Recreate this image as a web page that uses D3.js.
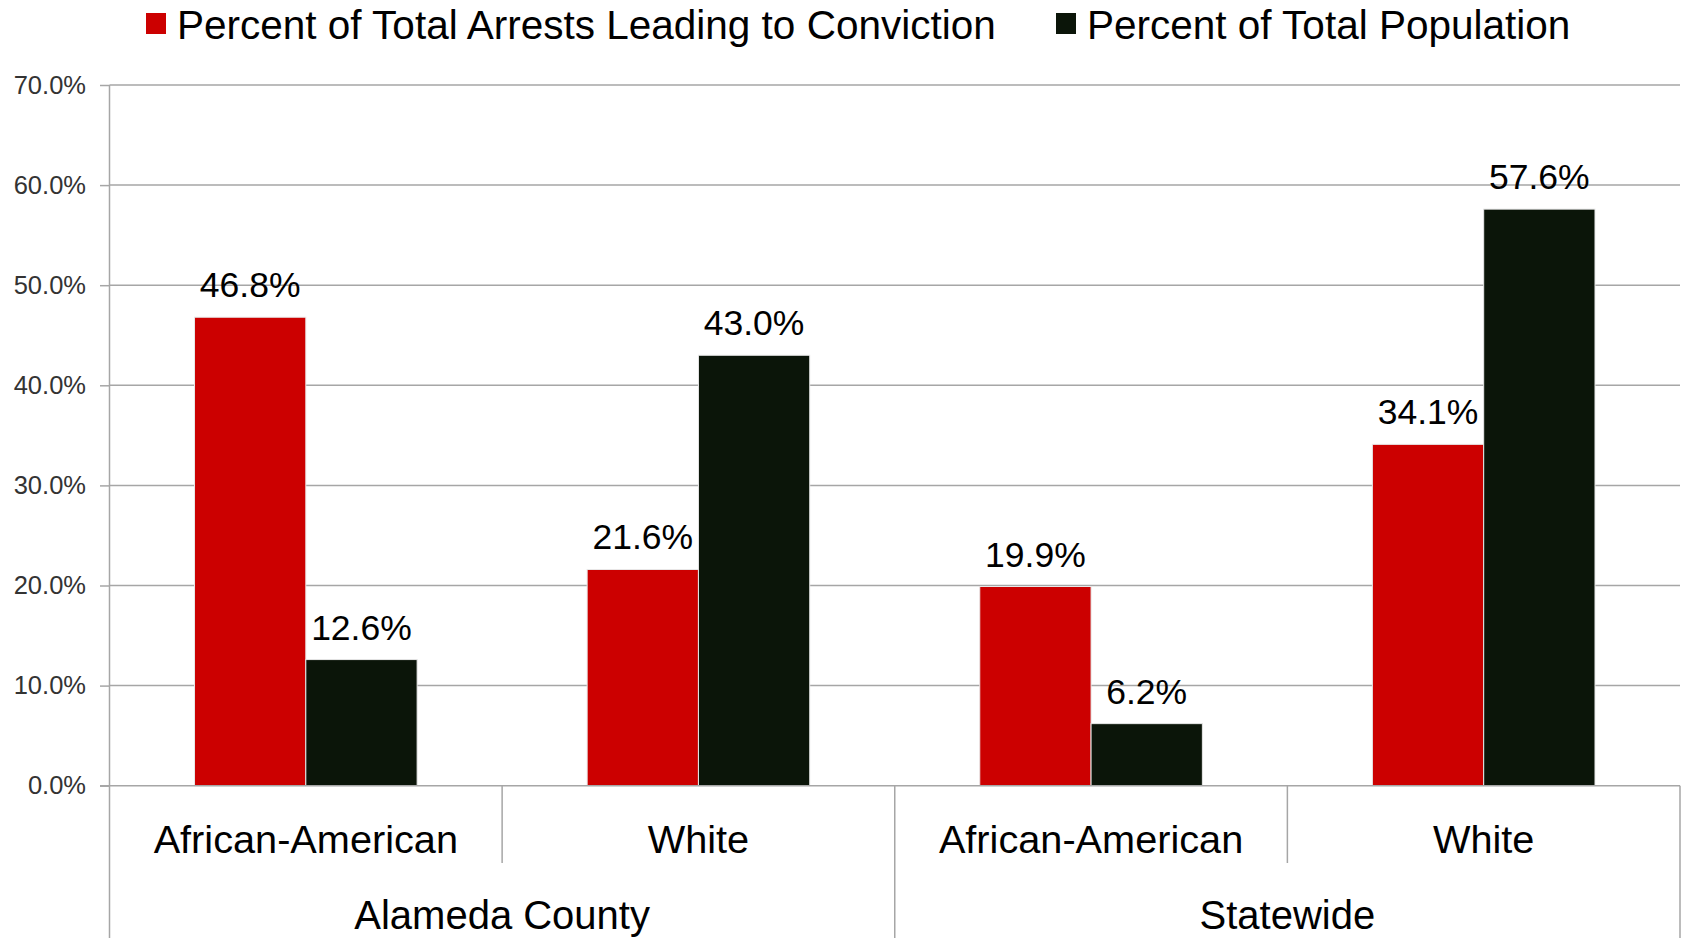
<!DOCTYPE html>
<html>
<head>
<meta charset="utf-8">
<script src="https://cdn.jsdelivr.net/npm/d3@7"></script>
<style>
  html, body { margin: 0; padding: 0; background: #fff; }
  svg { display: block; }
</style>
</head>
<body>
<svg id="chart" width="1683" height="938"></svg>
<script>
// ---- Data ----
const groups = ["Alameda County", "Statewide"];
const races = ["African-American", "White"];
const categories = [
  {group: "Alameda County", race: "African-American"},
  {group: "Alameda County", race: "White"},
  {group: "Statewide", race: "African-American"},
  {group: "Statewide", race: "White"}
];
const seriesNames = ["Percent of Total Arrests Leading to Conviction", "Percent of Total Population"];
const arrestsConviction = [46.8, 21.6, 19.9, 34.1];
const totalPopulation = [12.6, 43.0, 6.2, 57.6];
const yTicks = [0, 10, 20, 30, 40, 50, 60, 70];
const colors = ["#cc0000", "#0b1509"];

// ---- Layout ----
(function () {
const svg = d3.select("#chart");
const plotLeft = 109.5, plotRight = 1680, plotTop = 85, plotBottom = 785.7;
const font = "'Liberation Sans', Arial, sans-serif";
const gridColor = "#a6a6a6";

const x = d3.scaleBand().domain(d3.range(categories.length)).range([plotLeft, plotRight]).paddingInner(0).paddingOuter(0);
const inner = d3.scaleBand().domain([0, 1]).range([x.bandwidth() / 2 - 111.3, x.bandwidth() / 2 + 111.3]);
const y = d3.scaleLinear().domain([0, 70]).range([plotBottom, plotTop]);

// gridlines + y axis
const yAxis = d3.axisLeft(y).tickValues(yTicks).tickFormat(d => d3.format(".1f")(d) + "%")
  .tickSize(plotLeft - 100).tickPadding(14);
const gy = svg.append("g").attr("transform", `translate(${plotLeft},0)`).call(yAxis);
gy.select(".domain").remove();
gy.selectAll(".tick line").attr("stroke", gridColor).attr("stroke-width", 1.5);
gy.selectAll(".tick text").attr("font-family", font).attr("font-size", 25.5).attr("fill", "#333");
svg.append("g").selectAll("line").data(yTicks.filter(d => d > 0)).join("line")
  .attr("x1", plotLeft).attr("x2", plotRight).attr("y1", d => y(d)).attr("y2", d => y(d))
  .attr("stroke", gridColor).attr("stroke-width", 1.5);

// bars
const series = [arrestsConviction, totalPopulation];
series.forEach((vals, si) => {
  svg.append("g").selectAll("rect").data(vals).join("rect")
    .attr("x", (d, i) => x(i) + inner(si))
    .attr("width", inner.bandwidth())
    .attr("y", d => y(d))
    .attr("height", d => y(0) - y(d))
    .attr("fill", colors[si])
    .attr("stroke", "#e8e8e8").attr("stroke-width", 1);
  svg.append("g").selectAll("text").data(vals).join("text")
    .attr("x", (d, i) => x(i) + inner(si) + inner.bandwidth() / 2)
    .attr("y", d => y(d) - 20)
    .attr("text-anchor", "middle")
    .attr("font-family", font).attr("font-size", 35.5).attr("fill", "#000")
    .text(d => d3.format(".1f")(d) + "%");
});

// baseline & axis lines
svg.append("line").attr("x1", 100).attr("x2", plotRight).attr("y1", y(0)).attr("y2", y(0))
  .attr("stroke", gridColor).attr("stroke-width", 1.5);
svg.append("line").attr("x1", plotLeft).attr("x2", plotLeft).attr("y1", plotTop).attr("y2", 938)
  .attr("stroke", gridColor).attr("stroke-width", 1.5);

// category separators
const groupBand = d3.scaleBand().domain(groups).range([plotLeft, plotRight]);
categories.forEach((c, i) => {
  const xr = x(i) + x.bandwidth();
  const isGroupEnd = (i === categories.length - 1) || categories[i + 1].group !== c.group;
  svg.append("line").attr("x1", xr).attr("x2", xr).attr("y1", y(0)).attr("y2", isGroupEnd ? 938 : 863)
    .attr("stroke", gridColor).attr("stroke-width", 1.5);
});

// category labels
svg.append("g").selectAll("text").data(categories).join("text")
  .attr("x", (d, i) => x(i) + x.bandwidth() / 2)
  .attr("y", 853)
  .attr("text-anchor", "middle")
  .attr("font-family", font).attr("font-size", 39.7).attr("fill", "#000")
  .text(d => d.race);
svg.append("g").selectAll("text").data(groups).join("text")
  .attr("x", d => groupBand(d) + groupBand.bandwidth() / 2)
  .attr("y", 929)
  .attr("text-anchor", "middle")
  .attr("font-family", font).attr("font-size", 40).attr("fill", "#000")
  .text(d => d);

// legend
const legendX = [146, 1056];
seriesNames.forEach((name, i) => {
  const g = svg.append("g").attr("transform", `translate(${legendX[i]},0)`);
  g.append("rect").attr("x", 0).attr("y", 13).attr("width", 20).attr("height", 21).attr("fill", colors[i]);
  g.append("text").attr("x", 31).attr("y", 38.5)
    .attr("font-family", font).attr("font-size", 40.5).attr("fill", "#000").text(name);
});
})();
</script>
</body>
</html>
